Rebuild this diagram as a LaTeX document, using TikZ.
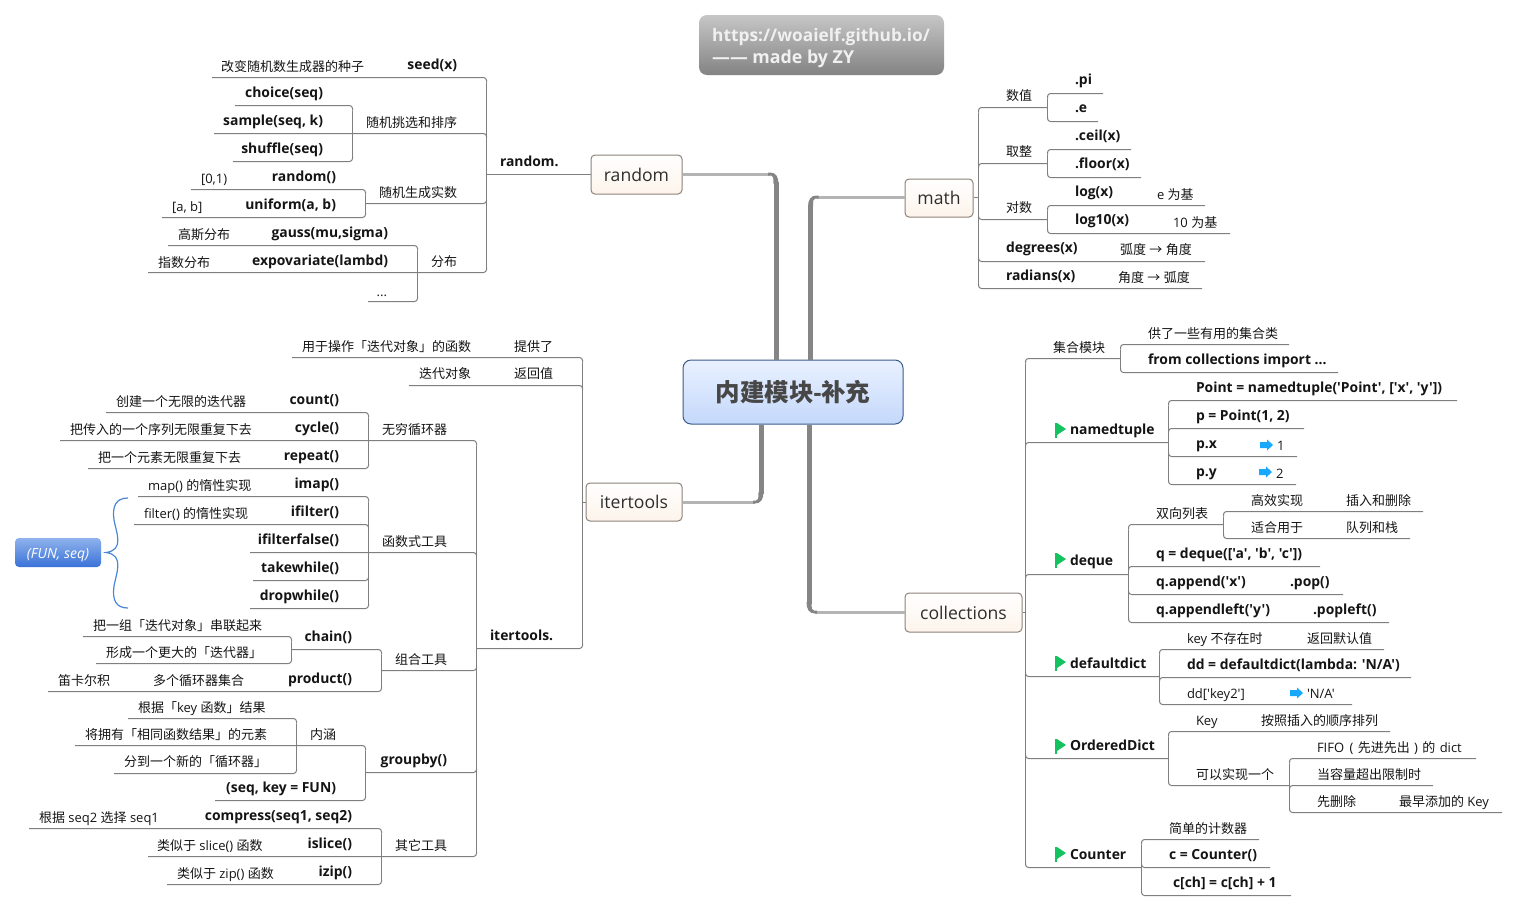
\documentclass[tikz,border=0pt]{standalone}
\usepackage{fontspec}
\setmainfont{Open Sans}[Ligatures=TeXOff]
\newfontfamily\cjkfont{Noto Sans CJK SC}
\chardef\cjkclass=200
\count255="3000
\loop\ifnum\count255<"A000 \XeTeXcharclass\count255=\cjkclass \advance\count255 by 1 \repeat
\count255="FF00
\loop\ifnum\count255<"FFF0 \XeTeXcharclass\count255=\cjkclass \advance\count255 by 1 \repeat
\XeTeXcharclass"2192=\cjkclass
\XeTeXinterchartoks 0 \cjkclass={\cjkfont}
\XeTeXinterchartoks 4095 \cjkclass={\cjkfont}
\XeTeXinterchartoks \cjkclass 0={\rmfamily}
\XeTeXinterchartoks \cjkclass 4095={\rmfamily}
\XeTeXinterchartokenstate=1
\definecolor{linegray}{HTML}{7F7F7F}
\definecolor{spinedark}{HTML}{858585}
\definecolor{spinelight}{HTML}{B4B4B4}
\definecolor{ink}{HTML}{141414}
\definecolor{flaggreen}{HTML}{14C35F}
\definecolor{arrowblue}{HTML}{18A8FF}
\definecolor{topicedge}{HTML}{8C8279}
\definecolor{topicbottom}{HTML}{FDF4EB}
\definecolor{roottop}{HTML}{E9F1FF}
\definecolor{rootbottom}{HTML}{C4D8FB}
\definecolor{rootedge}{HTML}{3C5A8C}
\definecolor{titletop}{HTML}{C6C6C6}
\definecolor{titlebottom}{HTML}{838383}
\definecolor{funtop}{HTML}{8FB2EC}
\definecolor{funbottom}{HTML}{3A72D8}
\definecolor{bracecolor}{HTML}{4A86D8}
\tikzset{
  link/.style={draw=linegray,line width=1pt,rounded corners=3pt},
  plain/.style={inner sep=0pt,outer sep=0pt,text=ink,font=\fontsize{13}{15}\selectfont},
  bold/.style={plain,font=\fontsize{13.9}{16}\selectfont\bfseries},
  topic/.style={draw=topicedge,line width=1pt,rounded corners=4pt,inner sep=0pt,top color=white,bottom color=topicbottom,text=black!82,font=\fontsize{17.6}{20}\selectfont},
  spineline/.style={draw=spinedark,line width=5pt},
  lightline/.style={draw=spinelight,line width=3pt},
}
\newcommand\kid[5]{\coordinate (#1) at (#2,#3+.5); \coordinate (#1j) at (#4+.5,#3+.5+#5); \draw[link] (#1) -| (#1j);}
\newcommand\trunk[2]{\draw[link] (#1j) -- (#2j);}
\newcommand\BL[4]{\node[bold,anchor=base west] (#1) at (#2,#3+5.5) {#4};}
\newcommand\BR[4]{\node[bold,anchor=base east] (#1) at (#2,#3+5.5) {#4};}
\newcommand\RL[4]{\node[plain,anchor=base west] (#1) at (#2,#3+5.5) {#4};}
\newcommand\RR[4]{\node[plain,anchor=base east] (#1) at (#2,#3+5.5) {#4};}
\newcommand\flagicon[1]{\fill[flaggreen] (1055,#1) rectangle (1057,#1+15); \fill[flaggreen] (1057,#1) -- (1066,#1+6) -- (1057,#1+12) -- cycle;}
\newcommand\arrowicon[2]{\fill[arrowblue] (#1,#2-3) -- (#1+7,#2-3) -- (#1+7,#2-5.5) -- (#1+13,#2) -- (#1+7,#2+5.5) -- (#1+7,#2+3) -- (#1,#2+3) -- cycle;}
\newcommand\spinecorner[3]{\begin{scope}[shift={(#1)},xscale=#2,yscale=#3]
  \fill[spinedark] (2.5,10) .. controls (2.5,3) and (0,-1.5) .. (-6,-1.5) -- (-8,-1.5) -- (-8,1.5) -- (-5,1.5) .. controls (-3,1.5) and (-2.5,3) .. (-2.5,10) -- cycle;
\end{scope}}
\begin{document}
\begin{tikzpicture}[x=1pt,y=-1pt]
\useasboundingbox (0,0) rectangle (1518,911);
% title and centre
\node[draw=none,rounded corners=8pt,minimum width=245pt,minimum height=60pt,inner sep=0pt,top color=titletop,bottom color=titlebottom] (title) at (821.5,45) {};
\node[inner sep=0pt,anchor=base west,text=white!94!black,font=\fontsize{17.3}{20}\selectfont\bfseries] (titleA) at (712,41) {https://woaielf.github.io/};
\node[inner sep=0pt,anchor=base west,text=white!94!black,font=\fontsize{17.8}{20}\selectfont\bfseries] (titleB) at (712,63) {—— made by ZY};
\node[draw=rootedge,line width=1pt,rounded corners=8pt,minimum width=220pt,minimum height=64pt,inner sep=0pt,top color=roottop,bottom color=rootbottom,text=black!72,font=\fontsize{24.5}{26}\selectfont\bfseries] (root) at (793,392) {内建模块-补充};
\node[topic,minimum width=91pt,minimum height=39pt] (randombox) at (636.5,174.5) {random};
\node[topic,minimum width=68pt,minimum height=38pt] (mathbox) at (939,198) {math};
\node[topic,minimum width=96pt,minimum height=38pt] (itertoolsbox) at (634,502) {itertools};
\node[topic,minimum width=117pt,minimum height=39pt] (collectionsbox) at (963.5,612.5) {collections};
% spines
\coordinate (cr) at (776,174); \coordinate (cm) at (810.5,197); \coordinate (ci) at (761,502); \coordinate (cc) at (809,612);
\draw[lightline] (randombox.east |- cr) -- ([xshift=-6pt]cr);
\draw[lightline] (mathbox.west |- cm) -- ([xshift=6pt]cm);
\draw[lightline] (itertoolsbox.east |- ci) -- ([xshift=-6pt]ci);
\draw[lightline] (collectionsbox.west |- cc) -- ([xshift=6pt]cc);
\draw[spineline] (root.north -| cr) -- ([yshift=-8pt]cr);
\draw[spineline] (root.north -| cm) -- ([yshift=-8pt]cm);
\draw[spineline] (root.south -| ci) -- ([yshift=8pt]ci);
\draw[spineline] (root.south -| cc) -- ([yshift=8pt]cc);
\spinecorner{cr}{1}{1}
\spinecorner{cm}{-1}{1}
\spinecorner{ci}{1}{-1}
\spinecorner{cc}{-1}{-1}
% RANDOM
\kid{seedl}{212}{77}{486}{5}
\kid{pickl}{214}{133}{486}{4}
\kid{reall}{365.5}{203}{486}{-4}
\kid{distl}{148}{272}{486}{-5}
\trunk{seedl}{distl}
\coordinate (randomj) at (486.5,174.5);
\draw[link] (randomj) -- (randombox.west |- randomj);
\kid{choicel}{235}{105}{352}{5}
\kid{shufl}{233}{161}{352}{-5}
\trunk{choicel}{shufl}
\kid{rndl}{191}{189}{365}{5}
\kid{unifl}{162}{217}{365}{-5}
\trunk{rndl}{unifl}
\kid{gaussl}{168}{245}{417}{5}
\kid{dotsl}{368}{301}{417}{-5}
\trunk{gaussl}{dotsl}
\RL{a1}{221}{66}{改变随机数生成器的种子}
\BR{a2}{457}{64}{seed(x)}
\BR{a3}{323}{92}{choice(seq)}
\BR{a4}{323}{120}{sample(seq, k)}
\BR{a5}{323}{148}{shuffle(seq)}
\RR{a6}{457}{122}{随机挑选和排序}
\BL{a7}{500}{161}{random.}
\RL{a8}{201}{178}{[0,1)}
\BR{a9}{336}{176}{random()}
\RL{a10}{172}{206}{[a, b]}
\BR{a11}{336}{204}{uniform(a, b)}
\RR{a12}{457}{192}{随机生成实数}
\RL{a13}{178}{234}{高斯分布}
\BR{a14}{388}{232}{gauss(mu,sigma)}
\RL{a15}{158}{262}{指数分布}
\BR{a16}{388}{260}{expovariate(lambd)}
\RR{a17}{457}{261}{分布}
\RR{a18}{387}{291}{...}
% ITERTOOLS
\kid{provl}{292}{357}{582}{5}
\kid{retl}{409}{385}{582}{4}
\kid{itl}{476.5}{648}{582}{-5}
\trunk{provl}{itl}
\coordinate (itj) at (582.5,502.5);
\draw[link] (itj) -- (itertoolsbox.west |- itj);
\kid{infl}{60}{440}{476}{5}
\kid{funcl}{250}{552}{476}{4}
\kid{combl}{381.5}{670}{476}{-4}
\kid{groupl}{365.5}{772}{476}{-4}
\kid{otherl}{148}{856}{476}{-5}
\trunk{infl}{otherl}
\kid{countl}{106}{412}{368}{5}
\kid{repl}{88}{468}{368}{-5}
\trunk{countl}{repl}
\kid{imapl}{138}{496}{368}{5}
\kid{ifl}{134}{524}{368}{4}
\kid{takel}{253}{580}{368}{-4}
\kid{dropl}{250}{608}{368}{-5}
\trunk{imapl}{dropl}
\kid{chainl}{292}{649}{381}{5}
\kid{prodl}{48}{691}{381}{-5}
\trunk{chainl}{prodl}
\kid{chaina}{83}{636}{291}{5}
\kid{chainb}{96}{663}{291}{-5}
\trunk{chaina}{chainb}
\kid{inneral}{75}{745}{365}{5}
\kid{seql}{215}{800}{365}{-5}
\trunk{inneral}{seql}
\kid{keya}{128}{718}{296}{5}
\kid{keyb}{114}{773}{296}{-5}
\trunk{keya}{keyb}
\kid{compl}{29}{828}{381}{5}
\kid{zipl}{167}{884}{381}{-5}
\trunk{compl}{zipl}
\RL{b1}{302}{346}{用于操作「迭代对象」的函数}
\RR{b2}{553}{346}{提供了}
\RL{b3}{419}{373}{迭代对象}
\RR{b4}{553}{373}{返回值}
\RL{b5}{116}{401}{创建一个无限的迭代器}
\BR{b6}{339}{399}{count()}
\RL{b7}{70}{429}{把传入的一个序列无限重复下去}
\BR{b8}{339}{427}{cycle()}
\RR{b9}{447}{429}{无穷循环器}
\RL{b10}{98}{457}{把一个元素无限重复下去}
\BR{b11}{339}{455}{repeat()}
\RL{b12}{148}{485}{map() 的惰性实现}
\BR{b13}{339}{483}{imap()}
\RL{b14}{144}{513}{filter() 的惰性实现}
\BR{b15}{339}{511}{ifilter()}
\BR{b16}{339}{539}{ifilterfalse()}
\RR{b17}{447}{541}{函数式工具}
\BR{b18}{339}{567}{takewhile()}
\BR{b19}{339}{595}{dropwhile()}
\RL{b20}{93}{625}{把一组「迭代对象」串联起来}
\BR{b21}{352}{636}{chain()}
\BL{b22}{490}{635}{itertools.}
\RL{b23}{106}{652}{形成一个更大的「迭代器」}
\RR{b24}{447}{659}{组合工具}
\RL{b25}{58}{680}{笛卡尔积}
\RL{b26}{153}{680}{多个循环器集合}
\BR{b27}{352}{678}{product()}
\RL{b28}{138}{707}{根据「key 函数」结果}
\RL{b29}{85}{734}{将拥有「相同函数结果」的元素}
\RR{b30}{336}{734}{内涵}
\RL{b31}{124}{761}{分到一个新的「循环器」}
\BR{b32}{447}{759}{groupby()}
\BR{b33}{336}{787}{(seq, key = FUN)}
\RL{b34}{39}{817}{根据 seq2 选择 seq1}
\BR{b35}{352}{815}{compress(seq1, seq2)}
\RL{b36}{157}{845}{类似于 slice() 函数}
\BR{b37}{352}{843}{islice()}
\RR{b38}{447}{845}{其它工具}
\RL{b39}{177}{873}{类似于 zip() 函数}
\BR{b40}{352}{871}{izip()}
% FUN, seq
\node[rounded corners=4pt,minimum width=86pt,minimum height=29pt,inner sep=0pt,top color=funtop,bottom color=funbottom,text=white,font=\fontsize{14}{16}\selectfont\itshape] (funseq) at (58,552.5) {\raisebox{-6pt}[0pt][0pt]{(FUN, seq)}};
\draw[draw=bracecolor,line width=1.2pt] (128,498) .. controls (116,498) and (112,506) .. (114,520) .. controls (116,532) and (125,550) .. (106,552.5) .. controls (125,555) and (116,574) .. (114,586) .. controls (112,600) and (116,608) .. (128,608);
% MATH
\kid{numl}{1047.5}{107}{978}{5}
\kid{intl}{1047.5}{163}{978}{4}
\kid{logl}{1047.5}{219}{978}{-4}
\kid{degl}{1205}{261}{978}{-4}
\kid{radl}{1202}{288}{978}{-5}
\trunk{numl}{radl}
\coordinate (mj) at (978.5,197.5);
\draw[link] (mathbox.east |- mj) -- (mj);
\kid{pil}{1103}{93}{1047}{5}
\kid{el}{1098}{121}{1047}{-5}
\trunk{pil}{el}
\kid{ceill}{1131}{149}{1047}{5}
\kid{floorl}{1141}{177}{1047}{-5}
\trunk{ceill}{floorl}
\kid{logal}{1205}{205}{1047}{5}
\kid{logbl}{1230}{233}{1047}{-5}
\trunk{logal}{logbl}
\RL{c1}{1006}{95}{数值}
\BL{c2}{1075}{79}{.pi}
\BL{c3}{1075}{107}{.e}
\RL{c4}{1006}{151}{取整}
\BL{c5}{1075}{135}{.ceil(x)}
\BL{c6}{1075}{163}{.floor(x)}
\RL{c7}{1006}{207}{对数}
\BL{c8}{1075}{191}{log(x)}
\RL{c9}{1157}{194}{e 为基}
\BL{c10}{1075}{219}{log10(x)}
\RL{c11}{1173}{222}{10 为基}
\BL{c12}{1006}{247}{degrees(x)}
\RL{c13}{1120}{249}{弧度 → 角度}
\BL{c14}{1006}{275}{radians(x)}
\RL{c15}{1118}{277}{角度 → 弧度}
% COLLECTIONS
\kid{coll}{1120.5}{358}{1025}{5}
\kid{ntl}{1168.5}{442}{1025}{4}
\kid{dql}{1128.5}{574}{1025}{4}
\kid{ddl}{1159.5}{676}{1025}{-4}
\kid{odl}{1168.5}{758}{1025}{-4}
\kid{ctl}{1141.5}{867}{1025}{-5}
\trunk{coll}{ctl}
\coordinate (cj) at (1025.5,612.5);
\draw[link] (collectionsbox.east |- cj) -- (cj);
\kid{col1}{1289}{344}{1120}{5}
\kid{col2}{1338}{372}{1120}{-5}
\trunk{col1}{col2}
\kid{nt1}{1457}{400}{1168}{5}
\kid{nt2}{1304}{428}{1168}{4}
\kid{nt3}{1297}{456}{1168}{-4}
\kid{nt4}{1296}{484}{1168}{-5}
\trunk{nt1}{nt4}
\kid{dq1}{1223.5}{524}{1128}{5}
\kid{dq2}{1320}{566}{1128}{4}
\kid{dq3}{1343}{594}{1128}{-4}
\kid{dq4}{1389}{622}{1128}{-5}
\trunk{dq1}{dq4}
\kid{dqa}{1423}{511}{1223}{5}
\kid{dqb}{1410}{538}{1223}{-5}
\trunk{dqa}{dqb}
\kid{dd1}{1384}{649}{1159}{5}
\kid{dd2}{1411}{677}{1159}{4}
\kid{dd3}{1352}{704}{1159}{-5}
\trunk{dd1}{dd3}
\kid{od1}{1390}{731}{1168}{5}
\kid{od2}{1289.5}{785}{1168}{-5}
\trunk{od1}{od2}
\kid{oda}{1476}{758}{1289}{5}
\kid{odb}{1433}{785}{1289}{4}
\kid{odc}{1502}{812}{1289}{-5}
\trunk{oda}{odc}
\kid{ct1}{1259}{839}{1141}{5}
\kid{ct2}{1270}{867}{1141}{-4}
\kid{ct3}{1291}{895}{1141}{-5}
\trunk{ct1}{ct3}
\flagicon{423}\flagicon{553}\flagicon{656}\flagicon{739}\flagicon{847}
\arrowicon{1260}{445}\arrowicon{1259}{472}\arrowicon{1290}{693}
\RL{d1}{1053}{347}{集合模块}
\RL{d2}{1148}{333}{供了一些有用的集合类}
\BL{d3}{1148}{359}{from collections import ...}
\BL{d4}{1196}{387}{Point = namedtuple('Point', ['x', 'y'])}
\BL{d5}{1196}{415}{p = Point(1, 2)}
\BL{d6}{1070}{429}{namedtuple}
\BL{d7}{1196}{443}{p.x}
\RL{d8}{1277}{445}{1}
\BL{d9}{1196}{471}{p.y}
\RL{d10}{1276}{473}{2}
\RL{d11}{1251}{500}{高效实现}
\RL{d12}{1346}{500}{插入和删除}
\RL{d13}{1156}{513}{双向列表}
\RL{d14}{1251}{527}{适合用于}
\RL{d15}{1346}{527}{队列和栈}
\BL{d16}{1156}{553}{q = deque(['a', 'b', 'c'])}
\BL{d17}{1070}{560}{deque}
\BL{d18}{1156}{581}{q.append('x')}
\BL{d19}{1290}{581}{.pop()}
\BL{d20}{1156}{609}{q.appendleft('y')}
\BL{d21}{1313}{609}{.popleft()}
\RL{d22}{1187}{638}{key 不存在时}
\RL{d23}{1307}{638}{返回默认值}
\BL{d24}{1070}{663}{defaultdict}
\BL{d25}{1187}{664}{dd = defaultdict(lambda: 'N/A')}
\RL{d26}{1187}{693}{dd['key2']}
\RL{d27}{1307}{693}{'N/A'}
\RL{d28}{1196}{720}{Key}
\RL{d29}{1261}{720}{按照插入的顺序排列}
\BL{d30}{1070}{745}{OrderedDict}
\RL{d31}{1317}{747}{FIFO\hspace{2pt} (\hspace{1pt} 先进先出\hspace{1pt} )\hspace{1pt} 的\hspace{1pt} dict}
\RL{d32}{1196}{774}{可以实现一个}
\RL{d33}{1317}{774}{当容量超出限制时}
\RL{d34}{1317}{801}{先删除}
\RL{d35}{1399}{801}{最早添加的 Key}
\RL{d36}{1169}{828}{简单的计数器}
\BL{d37}{1070}{854}{Counter}
\BL{d38}{1169}{854}{c = Counter()}
\BL{d39}{1173}{882}{c[ch] = c[ch] + 1}
\end{tikzpicture}
\end{document}
